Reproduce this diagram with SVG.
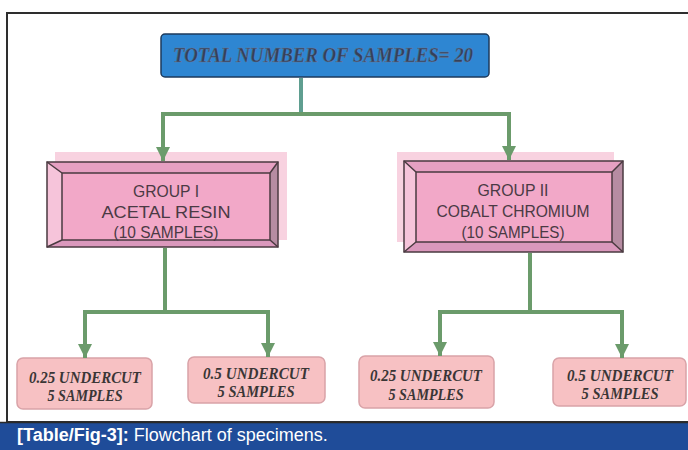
<svg xmlns="http://www.w3.org/2000/svg" width="688" height="450" viewBox="0 0 688 450">
<defs>
<style>
.frame{fill:#fff;stroke:#2e2e2e;stroke-width:2}
.bar{fill:#1f4c99}
.cap{font-family:"Liberation Sans",Arial,sans-serif;font-size:18px;fill:#fff}
.title{font-family:"Liberation Serif","Times New Roman",serif;font-style:italic;font-weight:bold;font-size:21px;fill:#33405a;stroke:#6a7a98;stroke-width:0.4;text-anchor:middle}
.grp{font-family:"Liberation Sans",Arial,sans-serif;font-size:17px;fill:#4a3a44;text-anchor:middle}
.leaf{font-family:"Liberation Serif","Times New Roman",serif;font-style:italic;font-weight:bold;font-size:16px;fill:#3a3636;text-anchor:middle}
.leafbox{fill:#f7c1c3;stroke:#d9a3a8;stroke-width:1.5}
.shadow{fill:#f8d2e0}
.inner{fill:#f2a8c8}
.btop{fill:#e6a0c2}
.bleft{fill:#f6c4da}
.bright{fill:#b68ca2}
.bbot{fill:#da98bc}
.outline{fill:none;stroke:#4a3a40;stroke-width:1.5}
.conn{fill:none;stroke:#6b9b6b;stroke-width:4}
.stem{fill:none;stroke:#5f9e90;stroke-width:4}
</style>
<marker id="arr" viewBox="0 0 14 14" refX="14" refY="7" markerUnits="userSpaceOnUse" markerWidth="14" markerHeight="14" orient="auto">
<path d="M0,0 L14,7 L0,14 Z" fill="#6b9b6b"/>
</marker>
</defs>

<rect class="frame" x="7" y="13" width="690" height="409"/>
<rect class="bar" x="0" y="423" width="688" height="27"/>
<line x1="0" y1="422.5" x2="688" y2="422.5" stroke="#2a2a2a" stroke-width="1.5"/>
<text class="cap" x="17" y="441"><tspan font-weight="bold">[Table/Fig-3]:</tspan> Flowchart of specimens.</text>

<g id="total">
<rect x="161" y="34" width="328" height="43" rx="4" fill="#2e86d2" stroke="#1c3a5c" stroke-width="1.5"/>
<text class="title" x="323" y="62" textLength="300" lengthAdjust="spacingAndGlyphs">TOTAL NUMBER OF SAMPLES= 20</text>
</g>

<g id="group1">
<rect class="shadow" x="55" y="152" width="232" height="88"/>
<polygon class="btop" points="47,162 278,162 270,173 62,173"/>
<polygon class="bleft" points="47,162 62,173 62,240 47,247"/>
<polygon class="bright" points="278,162 278,247 270,240 270,173"/>
<polygon class="bbot" points="47,247 62,240 270,240 278,247"/>
<rect class="inner" x="62" y="173" width="208" height="67"/>
<rect class="outline" x="47" y="162" width="231" height="85"/>
<rect class="outline" x="62" y="173" width="208" height="67" stroke-width="1"/>
<path class="outline" stroke-width="1" d="M47,162 L62,173 M278,162 L270,173 M47,247 L62,240 M278,247 L270,240"/>
<text class="grp" x="166" y="197" textLength="66" lengthAdjust="spacingAndGlyphs">GROUP I</text>
<text class="grp" x="166" y="218" textLength="129" lengthAdjust="spacingAndGlyphs">ACETAL RESIN</text>
<text class="grp" x="166" y="238" textLength="105" lengthAdjust="spacingAndGlyphs">(10 SAMPLES)</text>
</g>

<g id="group2">
<rect class="shadow" x="397" y="152" width="217" height="90"/>
<polygon class="btop" points="404,161 623,161 612,172 416,172"/>
<polygon class="bleft" points="404,161 416,172 416,242 404,252"/>
<polygon class="bright" points="623,161 623,252 612,242 612,172"/>
<polygon class="bbot" points="404,252 416,242 612,242 623,252"/>
<rect class="inner" x="416" y="172" width="196" height="70"/>
<rect class="outline" x="404" y="161" width="219" height="91"/>
<rect class="outline" x="416" y="172" width="196" height="70" stroke-width="1"/>
<path class="outline" stroke-width="1" d="M404,161 L416,172 M623,161 L612,172 M404,252 L416,242 M623,252 L612,242"/>
<text class="grp" x="513" y="196" textLength="71" lengthAdjust="spacingAndGlyphs">GROUP II</text>
<text class="grp" x="513" y="217" textLength="153" lengthAdjust="spacingAndGlyphs">COBALT CHROMIUM</text>
<text class="grp" x="513" y="238" textLength="103" lengthAdjust="spacingAndGlyphs">(10 SAMPLES)</text>
</g>

<g id="leaf1">
<rect class="leafbox" x="17" y="358" width="135" height="51" rx="6"/>
<text class="leaf" x="85" y="383" textLength="112" lengthAdjust="spacingAndGlyphs">0.25 UNDERCUT</text>
<text class="leaf" x="85" y="401" textLength="75" lengthAdjust="spacingAndGlyphs">5 SAMPLES</text>
</g>
<g id="leaf2">
<rect class="leafbox" x="188" y="357" width="137" height="46" rx="6"/>
<text class="leaf" x="256" y="379" textLength="106" lengthAdjust="spacingAndGlyphs">0.5 UNDERCUT</text>
<text class="leaf" x="256" y="397" textLength="77" lengthAdjust="spacingAndGlyphs">5 SAMPLES</text>
</g>
<g id="leaf3">
<rect class="leafbox" x="359" y="356" width="135" height="52" rx="6"/>
<text class="leaf" x="426" y="381" textLength="112" lengthAdjust="spacingAndGlyphs">0.25 UNDERCUT</text>
<text class="leaf" x="426" y="400" textLength="75" lengthAdjust="spacingAndGlyphs">5 SAMPLES</text>
</g>
<g id="leaf4">
<rect class="leafbox" x="553" y="358" width="133" height="48" rx="6"/>
<text class="leaf" x="620" y="381" textLength="106" lengthAdjust="spacingAndGlyphs">0.5 UNDERCUT</text>
<text class="leaf" x="620" y="399" textLength="77" lengthAdjust="spacingAndGlyphs">5 SAMPLES</text>
</g>

<g id="connectors">
<path class="stem" d="M301,78 V114"/>
<path class="conn" d="M301,114 H163 V161" marker-end="url(#arr)"/>
<path class="conn" d="M301,114 H509 V160" marker-end="url(#arr)"/>
<path class="conn" d="M165,248 V312 H85 V358" marker-end="url(#arr)"/>
<path class="conn" d="M165,312 H268 V357" marker-end="url(#arr)"/>
<path class="conn" d="M530,253 V312 H440 V356" marker-end="url(#arr)"/>
<path class="conn" d="M530,312 H622 V358" marker-end="url(#arr)"/>
</g>
</svg>
